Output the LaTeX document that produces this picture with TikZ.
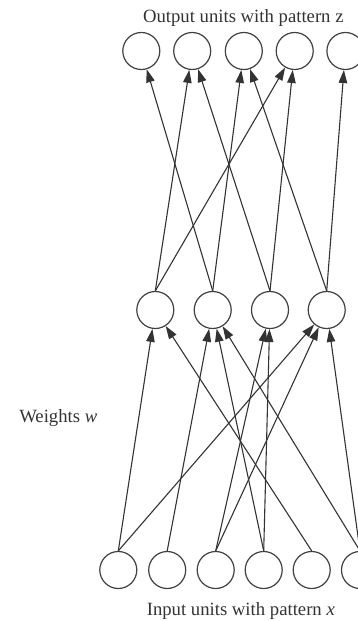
\documentclass[tikz,border=0pt]{standalone}
\usepackage{fontspec}
\setmainfont{Liberation Serif}
\usetikzlibrary{arrows.meta}
\begin{document}
\begin{tikzpicture}[x=1pt,y=-1pt,
  unit/.style={circle,draw=black!75,line width=1.2pt,minimum size=37pt,inner sep=0pt},
  conn/.style={draw=black!80,line width=1.1pt,-{Triangle[length=13pt,width=8.5pt]}},
  lbl/.style={font=\fontsize{18.7}{20}\selectfont,text=black!80,anchor=base,inner sep=0pt}]
\useasboundingbox (0,0) rectangle (358,621);
\clip (0,0) rectangle (358,621);
% output units
\foreach \i/\x in {1/141.3,2/192.2,3/243.8,4/294.7,5/345.4}
  \node[unit] (o\i) at (\x,51) {};
% hidden units
\foreach \i/\x in {1/155.3,2/212.7,3/270,4/326.7}
  \node[unit] (h\i) at (\x,310) {};
% input units
\foreach \i/\x in {1/118.3,2/167.2,3/215.7,4/263.7,5/311.7,6/360}
  \node[unit] (i\i) at (\x,570) {};
% labels
\node[lbl] (tout) at (243.3,23) {Output units with pattern z};
\node[lbl] (tin) at (240.8,615) {Input units with pattern \textit{x}};
\node[lbl] (tw) at (58.3,422.7) {Weights \textit{w}};
% hidden -> output
\foreach \h/\o in {2/1,1/2,3/2,2/3,4/3,1/4,3/4,4/5}
  \draw[conn] (h\h.north) -- (o\o);
% input -> hidden
\foreach \a/\h in {1/1,5/1,2/2,4/2,6/2,3/3,4/3,1/4,3/4,6/4}
  \draw[conn] (i\a.north) -- (h\h);
\end{tikzpicture}
\end{document}
